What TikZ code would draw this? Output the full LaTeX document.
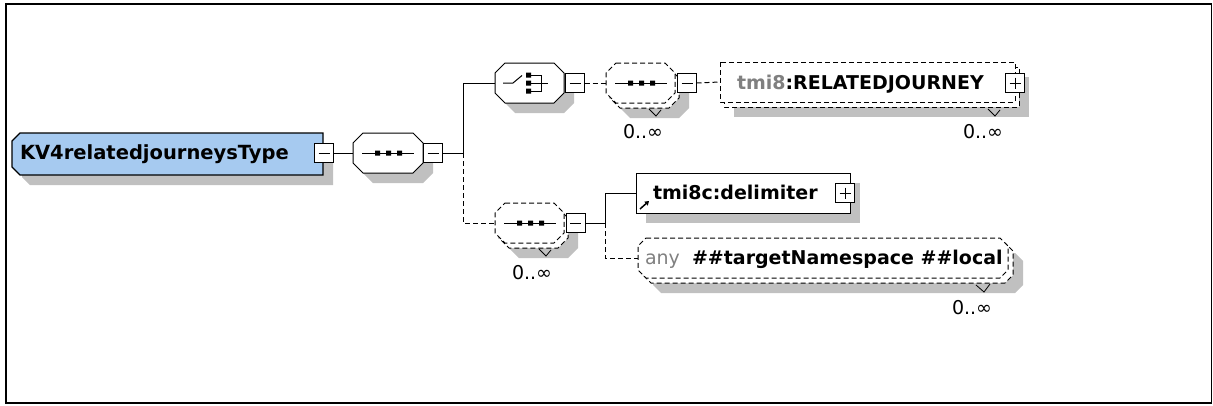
\documentclass[tikz,border=0pt]{standalone}
\usepackage{fontspec}
\setmainfont{DejaVu Sans}
\usetikzlibrary{arrows.meta}
\definecolor{rootblue}{RGB}{166,202,240}
\definecolor{shade}{RGB}{192,192,192}
\definecolor{nsgray}{RGB}{128,128,128}
\begin{document}
\begin{tikzpicture}[x=1pt,y=-1pt,
  every node/.style={inner sep=0pt, outer sep=0pt},
  ln/.style={line width=1pt, black},
  dln/.style={ln, dash pattern=on 5pt off 3pt},
  shadowf/.style={fill=shade, draw=none},
  pm/.style={draw, line width=1pt, fill=white, minimum width=19, minimum height=19},
  minusbox/.style={pm, path picture={\draw[line width=1pt] ([xshift=4pt]path picture bounding box.west) -- ([xshift=-4pt]path picture bounding box.east);}},
  plusbox/.style={pm, path picture={\draw[line width=1pt] ([xshift=4pt]path picture bounding box.west) -- ([xshift=-4pt]path picture bounding box.east) ([yshift=-4pt]path picture bounding box.north) -- ([yshift=4pt]path picture bounding box.south);}},
  octo/.style n args={5}{insert path={({#1+#5},{#2}) -- ({#3-#5},{#2}) -- ({#3},{#2+#5}) -- ({#3},{#4-#5}) -- ({#3-#5},{#4}) -- ({#1+#5},{#4}) -- ({#1},{#4-#5}) -- ({#1},{#2+#5}) -- cycle}},
  lab/.style={anchor=base west, font=\fontsize{19}{22}\selectfont\bfseries},
  card/.style={anchor=base, font=\fontsize{19}{22}\selectfont},
  tick/.style={line width=0.8pt},
  hold/.style={draw=none, minimum height=40},
]
\useasboundingbox (0,0) rectangle (1213,405);
\fill[white] (0,0) rectangle (1213,405);
\draw[line width=1.6pt] (6,4) rectangle (1211.5,403.2);

% ---------- root ----------
\fill[shadowf, shift={(10,10)}] (20,133) -- (323,133) -- (323,175) -- (20,175) -- (12,167) -- (12,141) -- cycle;
\draw[line width=1.4pt, fill=rootblue] (20,133) -- (323,133) -- (323,175) -- (20,175) -- (12,167) -- (12,141) -- cycle;
\node[lab, font=\fontsize{19.5}{22}\selectfont\bfseries] (root) at (20,159.5) {KV4relatedjourneysType};
\node[minusbox] (m0) at (324,153) {};

% ---------- sequence A ----------
\fill[shadowf, shift={(10,10)}, octo={353}{133}{423}{173}{10}];
\draw[ln, fill=white, octo={353}{133}{423}{173}{10}];
\node[hold, minimum width=70] (seqA) at (388,153) {};
\draw[ln] (362,153) -- (414,153);
\fill (375,150.5) rectangle (380,155.5) (386,150.5) rectangle (391,155.5) (397,150.5) rectangle (402,155.5);
\node[minusbox] (m1) at (433,153) {};

% ---------- choice ----------
\fill[shadowf, shift={(10,10)}, octo={495}{63}{564}{103}{10}];
\draw[ln, fill=white, octo={495}{63}{564}{103}{10}];
\node[hold, minimum width=69] (choice) at (529.5,83) {};
\draw[ln] (503,83) -- (513,83) -- (522,75.5);
\fill (526,72.5) rectangle (531,77.5) (526,80.5) rectangle (531,85.5) (526,88.5) rectangle (531,93.5);
\draw[ln] (531,75) -- (541,75) -- (541,91) -- (531,91) (531,83) -- (548,83);
\node[minusbox] (m2) at (575,83) {};

% ---------- sequence B (0..inf) ----------
\fill[shadowf, shift={(14,15)}, octo={606}{63}{675}{103}{10}];
\draw[dln, fill=white, shift={(4,5)}, octo={606}{63}{675}{103}{10}];
\draw[dln, fill=white, octo={606}{63}{675}{103}{10}];
\node[hold, minimum width=69] (seqB) at (640.5,83) {};
\draw[ln] (615,83) -- (667,83);
\fill (628,80.5) rectangle (633,85.5) (639,80.5) rectangle (644,85.5) (650,80.5) rectangle (655,85.5);
\node[minusbox] (m3) at (687,83) {};
\draw[tick] (649,109) -- (656,116) -- (661,110);
\node[card] (cB) at (643,138) {0..∞};

% ---------- RELATEDJOURNEY ----------
\fill[shadowf] (734,77) rectangle (1029,117);
\draw[dln, fill=white] (724,67) rectangle (1019,107);
\draw[dln, fill=white] (720,62) rectangle (1015,102);
\node[hold, minimum width=295] (rel) at (867.5,82) {};
\node[lab] (relt) at (737,89.5) {\color{nsgray}tmi8\color{black}:RELATEDJOURNEY};
\node[plusbox] (p1) at (1015,83) {};
\draw[tick] (988,109) -- (995,116) -- (1000,110);
\node[card] (cR) at (983,138) {0..∞};

% ---------- sequence C (0..inf) ----------
\fill[shadowf, shift={(14,15)}, octo={495}{203}{564}{243}{10}];
\draw[dln, fill=white, shift={(4,5)}, octo={495}{203}{564}{243}{10}];
\draw[dln, fill=white, octo={495}{203}{564}{243}{10}];
\node[hold, minimum width=69] (seqC) at (529.5,223) {};
\draw[ln] (504,223) -- (556,223);
\fill (517,220.5) rectangle (522,225.5) (528,220.5) rectangle (533,225.5) (539,220.5) rectangle (544,225.5);
\node[minusbox] (m4) at (575.5,223) {};
\draw[tick] (539,249) -- (546,256) -- (551,250);
\node[card] (cC) at (532,279) {0..∞};

% ---------- delimiter ----------
\fill[shadowf] (646,183) rectangle (860,223);
\draw[ln, fill=white] (636,173) rectangle (850,213);
\node[hold, minimum width=214] (delim) at (743,193) {};
\node[lab] (delt) at (653,199.5) {tmi8c:delimiter};
\draw[line width=1.5pt, -{Triangle[length=4pt,width=5pt]}] (640,209) -- (649,201);
\node[plusbox] (p2) at (845,193) {};

% ---------- any ----------
\fill[shadowf, shift={(15,15)}, octo={638}{238}{1008}{278}{8}];
\draw[dln, fill=white, shift={(5,5)}, octo={638}{238}{1008}{278}{8}];
\draw[dln, fill=white, octo={638}{238}{1008}{278}{8}];
\node[hold, minimum width=370] (any) at (823,258) {};
\node[anchor=base west, font=\fontsize{19}{22}\selectfont, text=nsgray] (anyw) at (645,264.5) {any};
\node[lab] (anyt) at (692,264.5) {\#\#targetNamespace \#\#local};
\draw[tick] (976,285) -- (984,292) -- (990,284);
\node[card] (cA) at (972,314) {0..∞};

% ---------- connectors ----------
\coordinate (jA) at (463,153);
\coordinate (jT) at (463,83);
\coordinate (jB) at (463,223);
\coordinate (kA) at (605,223);
\coordinate (kT) at (605,193);
\coordinate (kB) at (605,258);
\draw[ln] (m0.east) -- (seqA.west);
\draw[ln] (m1.east) -- (jA) -- (jT) -- (choice.west);
\draw[dln] (jA) -- (jB) -- (seqC.west);
\draw[dln] (m2.east) -- (seqB.west);
\draw[dln] (m3.east) -- (rel.west);
\draw[ln] (m4.east) -- (kA) -- (kT) -- (delim.west);
\draw[dln] (kA) -- (kB) -- (any.west);
\end{tikzpicture}
\end{document}
